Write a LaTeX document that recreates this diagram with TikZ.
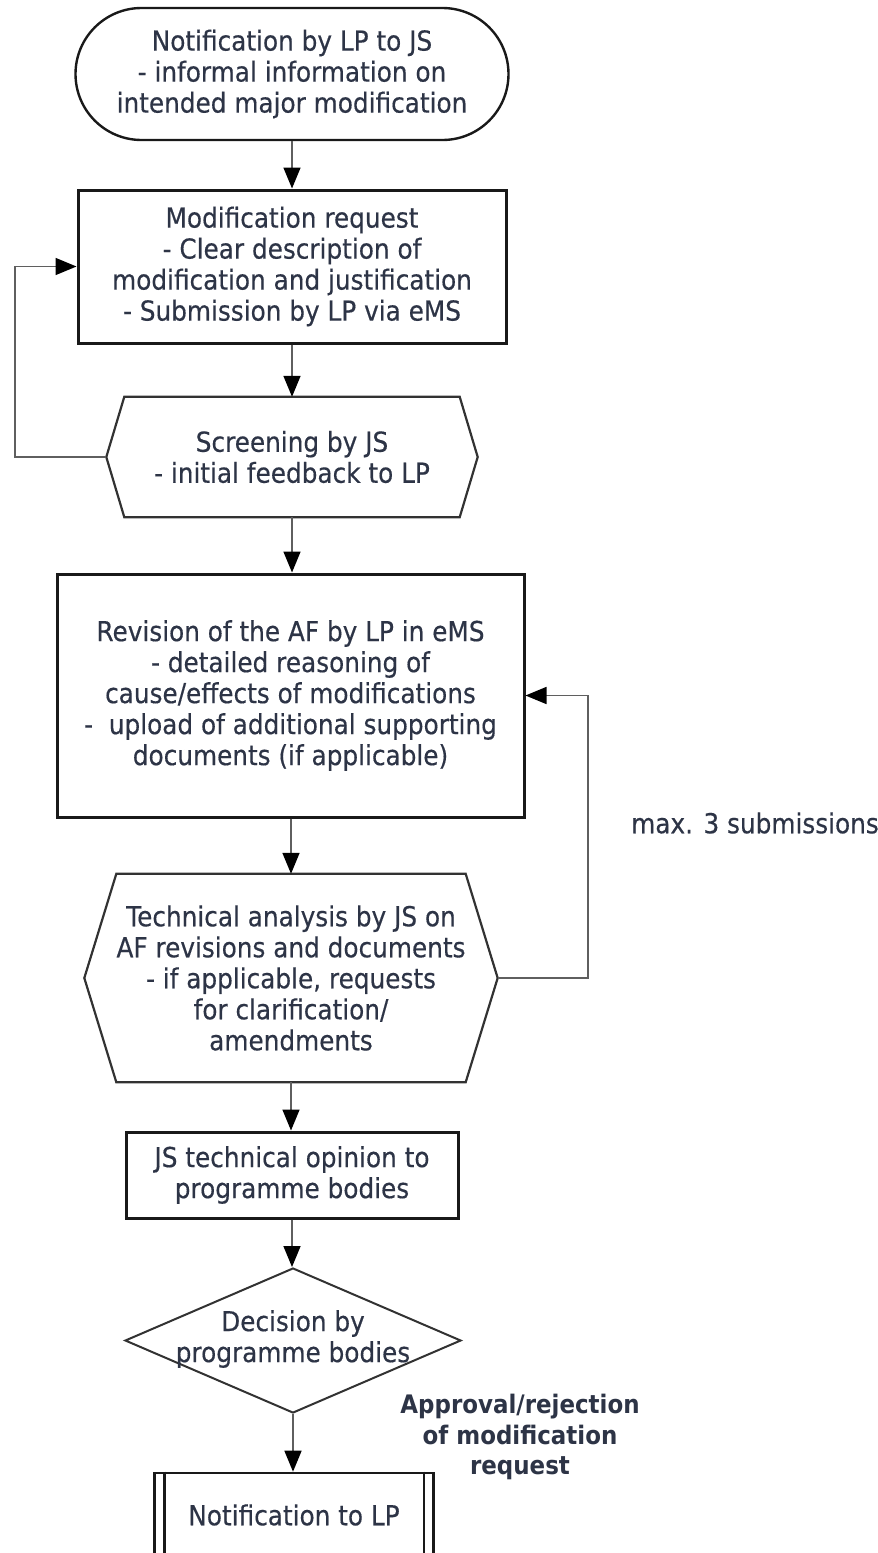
\documentclass[tikz,border=0pt]{standalone}
\usepackage{fontspec}
\setmainfont{DejaVu Sans}[FakeStretch=0.9, UprightFeatures={FakeBold=0.4}]
\usetikzlibrary{arrows.meta,shapes.misc,shapes.geometric,calc}
\definecolor{txt}{RGB}{45,52,70}
\definecolor{edge}{RGB}{25,25,25}
\definecolor{hexedge}{RGB}{50,50,50}
\definecolor{conn}{RGB}{95,95,95}
\begin{document}
\begin{tikzpicture}[x=1pt,y=-1pt,
  every node/.style={font=\fontsize{27.5}{31}\selectfont, text=txt, align=center, inner sep=0pt},
  terminal/.style={draw=edge, line width=2.4pt, rounded rectangle, minimum width=433pt, minimum height=132pt},
  procbox/.style={draw=edge, line width=3pt, rectangle},
  hexbox/.style={rectangle, draw=none},
  hexline/.style={draw=hexedge, line width=2.2pt, line join=miter},
  decbox/.style={diamond, draw=hexedge, line width=2pt, minimum width=336pt, minimum height=145pt},
  flow/.style={draw=conn, line width=1.6pt, -{Triangle[width=17pt,length=21pt,color=black]}},
  note/.style={font=\fontsize{27.5}{31}\selectfont},
  boldnote/.style={font=\fontsize{25.5}{30.5}\selectfont\bfseries}
]
\useasboundingbox (0,0) rectangle (878,1553);
\clip (0,0) rectangle (878,1553);

% nodes
\node[terminal] (start) at (292,74) {Notification by LP to JS\\- informal information on\\intended major modification};
\node[procbox, minimum width=428pt, minimum height=153pt] (req) at (292,266.5)
  {Modification request\\- Clear description of\\modification and justification\\- Submission by LP via eMS};
\node[hexbox, minimum width=335pt, minimum height=120pt] (screen) at (292,457)
  {Screening by JS\\- initial feedback to LP};
\coordinate (screenL) at ($(screen.west)+(-18,0)$);
\coordinate (screenR) at ($(screen.east)+(18,0)$);
\draw[hexline] (screen.north west) -- (screen.north east) -- (screenR) -- (screen.south east)
  -- (screen.south west) -- (screenL) -- cycle;

\node[procbox, minimum width=467pt, minimum height=243pt] (rev) at (290.5,695.5)
  {Revision of the AF by LP in eMS\\- detailed reasoning of\\cause/effects of modifications\\-\ \ upload of additional supporting\\documents (if applicable)};

\node[hexbox, minimum width=344pt, minimum height=208pt] (tech) at (291,978)
  {Technical analysis by JS on\\AF revisions and documents\\- if applicable, requests\\for clarification/\\amendments};
\coordinate (techL) at ($(tech.west)+(-32,0)$);
\coordinate (techR) at ($(tech.east)+(32,0)$);
\draw[hexline] (tech.north west) -- (tech.north east) -- (techR) -- (tech.south east)
  -- (tech.south west) -- (techL) -- cycle;

\node[procbox, minimum width=332pt, minimum height=86pt] (op) at (292,1175)
  {JS technical opinion to\\programme bodies};

\node[decbox] (dec) at (293,1340.5) {};
\node (decT) at (293,1339) {Decision by\\programme bodies};

\node[procbox, line width=2.6pt, minimum width=279pt, minimum height=84pt] (notif) at (294,1515)
  {Notification to LP};
\draw[edge, line width=2.6pt] ($(notif.north west)+(11,0)$) -- ($(notif.south west)+(11,0)$);
\draw[edge, line width=2.6pt] ($(notif.north east)+(-11,0)$) -- ($(notif.south east)+(-11,0)$);

% labels
\node[note] (maxlbl) at (755,823) {max. 3 submissions};
\node[boldnote] (applbl) at (520,1437) {Approval/rejection\\of modification\\request};

% loop corners
\coordinate (loopL) at (15,457);
\coordinate (loopR) at (588,978);

% connectors
\draw[flow] (start.south) -- (req.north);
\draw[flow] (req.south) -- (screen.north);
\draw[flow] (screen.south) -- (rev.north -| screen.south);
\draw[flow] (rev.south -| tech.north) -- (tech.north);
\draw[flow] (tech.south) -- (op.north -| tech.south);
\draw[flow] (op.south) -- (dec.north -| op.south);
\draw[flow] (dec.south) -- (notif.north -| dec.south);
\draw[flow] (screenL) -- (loopL) |- (req.west);
\draw[flow] (techR) -- (loopR) |- (rev.east);
\end{tikzpicture}
\end{document}
